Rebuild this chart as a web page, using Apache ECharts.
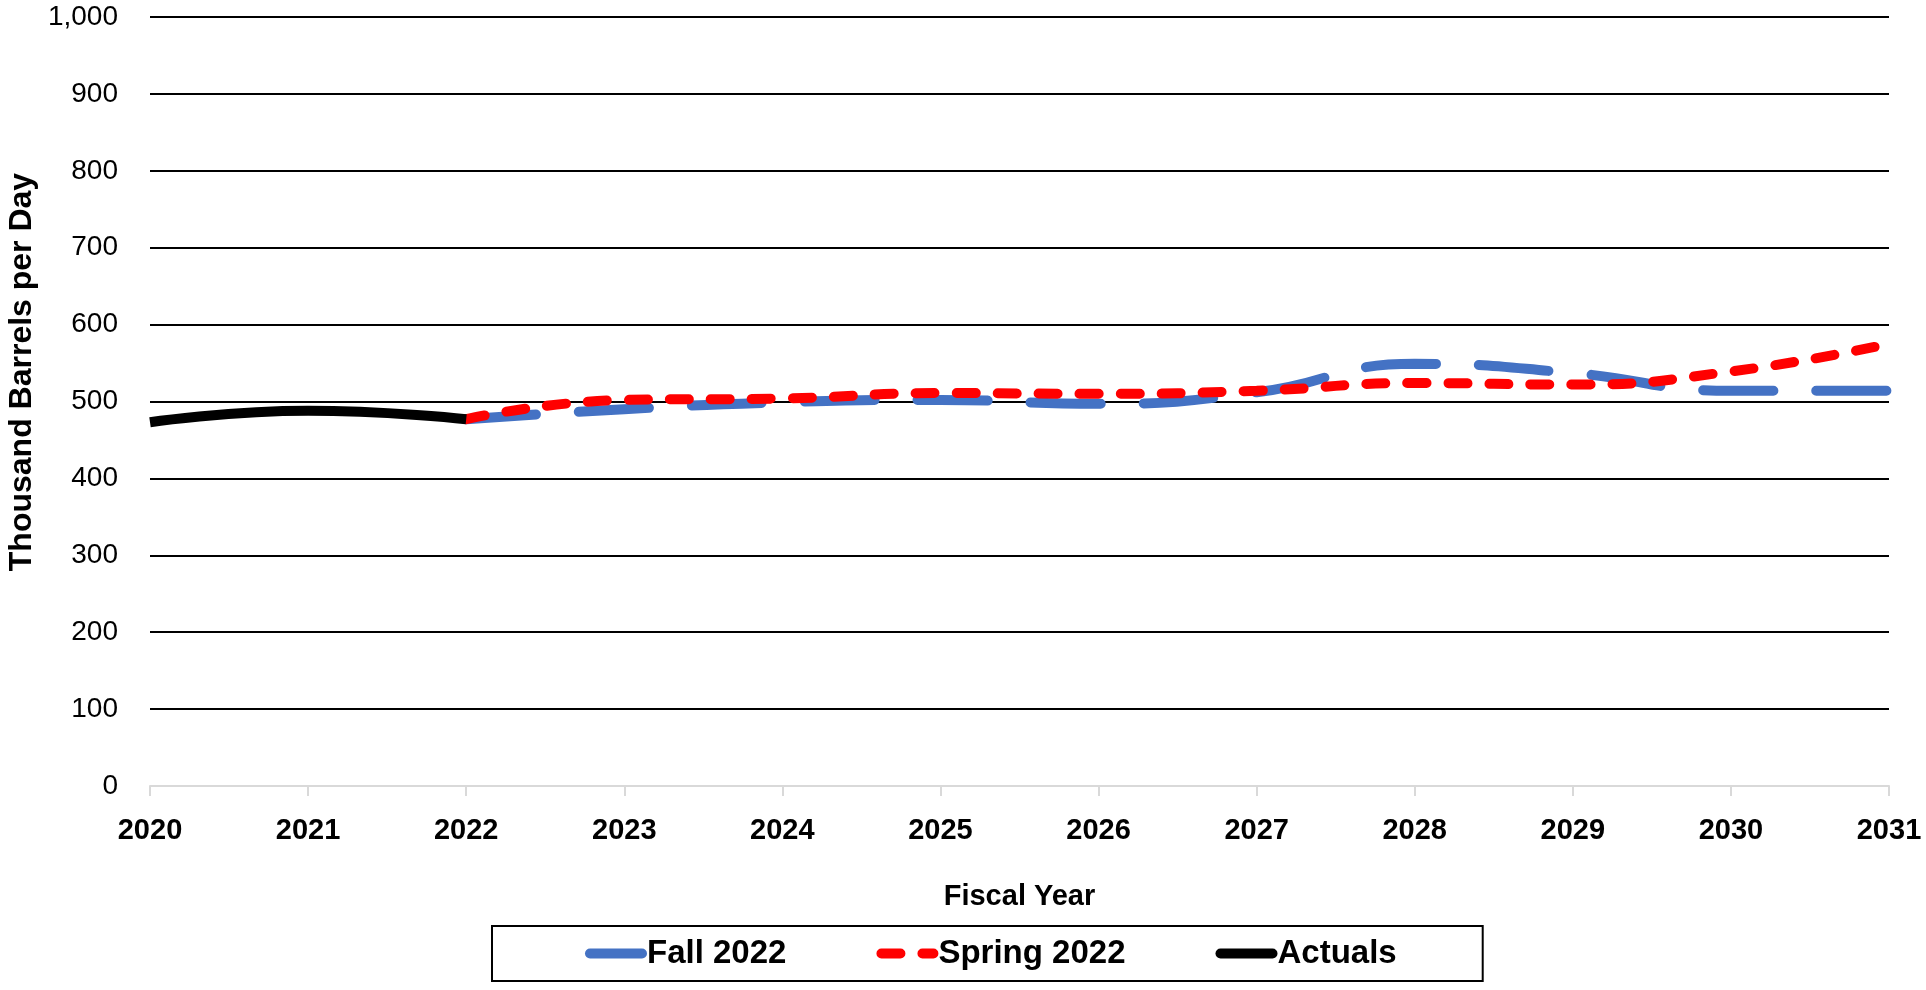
<!DOCTYPE html>
<html>
<head>
<meta charset="utf-8">
<script src="https://cdn.jsdelivr.net/npm/echarts@6/dist/echarts.min.js"></script>
<style>
  html, body { margin: 0; padding: 0; background: #fff; }
  #chart { width: 1926px; height: 990px; }
</style>
</head>
<body>
<div id="chart"></div>
<script>
// fiscal years on the x axis
const years = ['2020', '2021', '2022', '2023', '2024', '2025', '2026', '2027', '2028', '2029', '2030', '2031'];
// thousand barrels per day
const fall2022 = [null, null, 477, 490, 499, 502, 497, 512, 549, 537, 514, 514];
const spring2022 = [null, null, 477, 502, 504, 511, 510, 514, 524, 522, 539, 575];
const actuals = [473, 488, 477, null, null, null, null, null, null, null, null, null];

const font = "'Liberation Sans', Arial, sans-serif";
const chart = echarts.init(document.getElementById('chart'));

const option = {
    animation: false,
    backgroundColor: '#fff',
    grid: {
        left: 150,
        right: 37,
        top: 17,
        bottom: 204
    },
    legend: {
        left: 492,
        top: 926,
        padding: [11, 86, 11, 93],
        borderColor: '#000',
        borderWidth: 2,
        itemGap: 90,
        itemWidth: 52,
        itemHeight: 14,
        textStyle: {
            fontFamily: font,
            fontSize: 33,
            fontWeight: 'bold',
            color: '#000'
        },
        // hide the little marker ECharts puts on line icons
        itemStyle: { opacity: 0, borderWidth: 0 },
        lineStyle: {
            width: 10,
            cap: 'round'
        },
        data: ['Fall 2022', 'Spring 2022', 'Actuals']
    },
    xAxis: {
        type: 'category',
        data: years,
        boundaryGap: false,
        name: 'Fiscal Year',
        nameLocation: 'middle',
        nameGap: 96,
        nameTextStyle: {
            fontFamily: font,
            fontSize: 29,
            fontWeight: 'bold',
            color: '#000'
        },
        axisLine: {
            show: true,
            lineStyle: { color: '#d9d9d9', width: 2 }
        },
        axisTick: {
            show: true,
            length: 10,
            lineStyle: { color: '#d9d9d9', width: 2 }
        },
        axisLabel: {
            margin: 30,
            fontFamily: font,
            fontSize: 29,
            fontWeight: 'bold',
            color: '#000'
        },
        splitLine: { show: false }
    },
    yAxis: {
        type: 'value',
        min: 0,
        max: 1000,
        interval: 100,
        axisLine: { show: false },
        axisTick: { show: false },
        axisLabel: {
            margin: 32,
            fontFamily: font,
            fontSize: 28,
            color: '#000',
            formatter: function (v) { return v.toLocaleString('en-US'); }
        },
        splitLine: {
            show: true,
            showMinLine: false,
            lineStyle: { color: '#000', width: 2 }
        }
    },
    graphic: [{
        type: 'text',
        x: 22,
        y: 372,
        rotation: Math.PI / 2,
        style: {
            text: 'Thousand Barrels per Day',
            fontFamily: font,
            fontSize: 32,
            fontWeight: 'bold',
            fill: '#000',
            align: 'center',
            verticalAlign: 'middle'
        }
    }],
    series: [
        {
            name: 'Fall 2022',
            type: 'line',
            data: fall2022,
            smooth: 0.5,
            symbol: 'none',
            lineStyle: { color: '#4472C4', width: 10, type: [70, 43], cap: 'round' },
            itemStyle: { color: '#4472C4' }
        },
        {
            name: 'Spring 2022',
            type: 'line',
            data: spring2022,
            smooth: 0.5,
            symbol: 'none',
            lineStyle: { color: '#FF0000', width: 10, type: [19, 22], cap: 'round' },
            itemStyle: { color: '#FF0000' }
        },
        {
            name: 'Actuals',
            type: 'line',
            data: actuals,
            smooth: 0.5,
            symbol: 'none',
            lineStyle: { color: '#000', width: 10 },
            itemStyle: { color: '#000' }
        }
    ]
};

chart.setOption(option);
</script>
</body>
</html>
